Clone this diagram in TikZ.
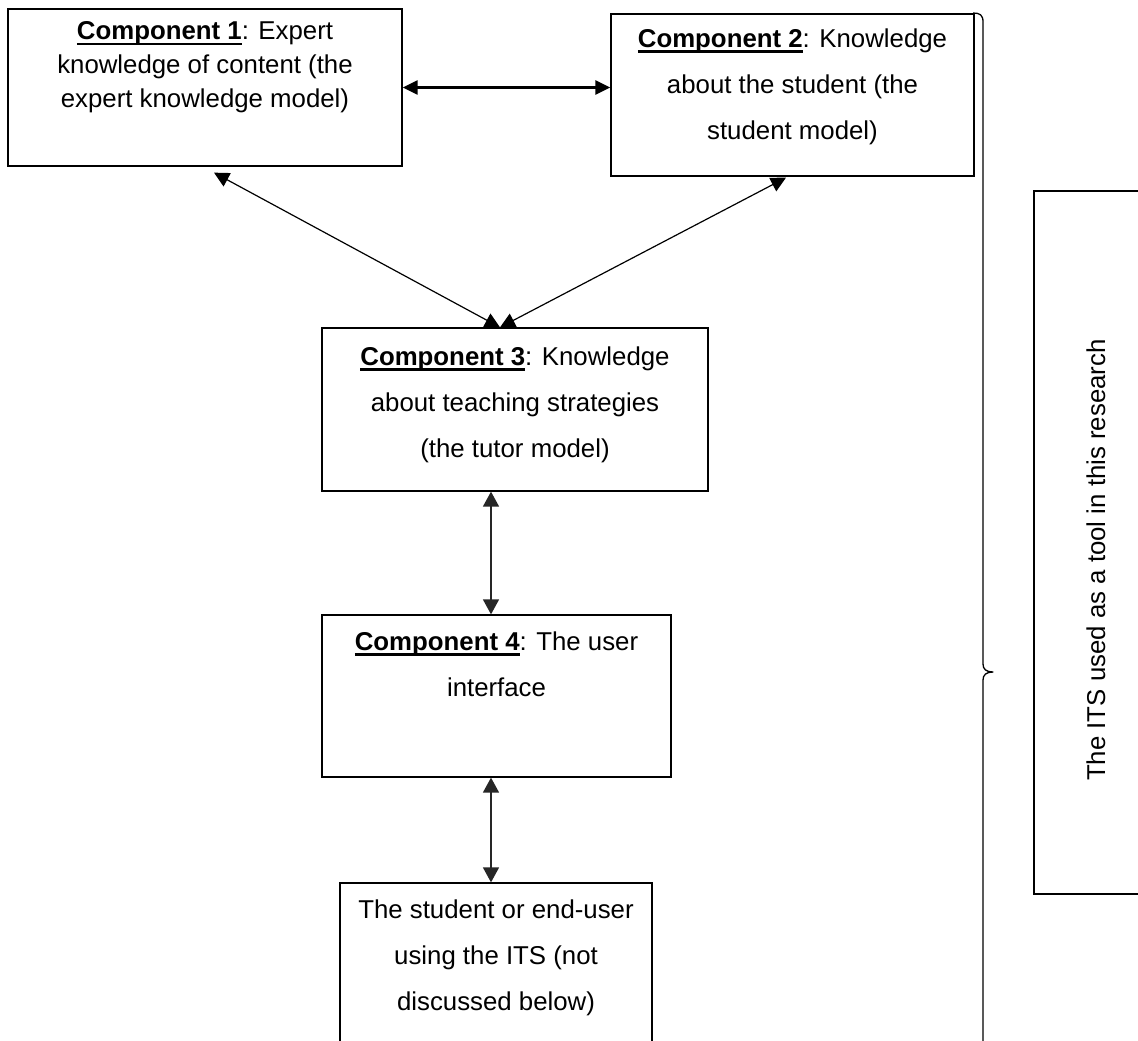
\documentclass[tikz,border=0pt]{standalone}
\usepackage{fontspec}
\setmainfont{Liberation Sans}
\usetikzlibrary{arrows.meta}
% bold, thickly underlined component name
\newcommand{\ulcomp}[1]{\setbox0=\hbox{\bfseries #1}\rlap{\vrule height -3pt depth 5.6pt width \wd0}\box0}
\begin{document}
\begin{tikzpicture}[x=1pt, y=-1pt,
  box/.style={draw=black, line width=1.3pt, inner sep=0pt},
  txt/.style={align=center, inner sep=0pt, anchor=north,
              font=\fontsize{25.8pt}{46pt}\selectfont},
  tip/.style={Triangle[length=15pt, width=15pt]},
  link/.style={line width=1.2pt, {Triangle[length=15pt,width=15pt]}-{Triangle[length=15pt,width=15pt]}},
  boldlink/.style={line width=2.3pt, {Triangle[length=15pt,width=14pt]}-{Triangle[length=15pt,width=14pt]}},
  vlink/.style={line width=1.5pt, draw=black!85, {Triangle[length=15pt,width=16pt]}-{Triangle[length=15pt,width=16pt]}},
  brace/.style={line width=1.3pt, line join=round}
]
\useasboundingbox (0,0) rectangle (1138,1041);
\clip (0,0) rectangle (1138,1041);
\fill[white] (0,0) rectangle (1138,1041);

% component boxes
\node[box, minimum width=394pt, minimum height=157pt] (c1) at (205,87.5) {};
\node[box, minimum width=363pt, minimum height=162pt] (c2) at (792.5,95) {};
\node[box, minimum width=386pt, minimum height=163pt] (c3) at (515,409.5) {};
\node[box, minimum width=349pt, minimum height=162pt] (c4) at (496.5,696) {};
\node[box, minimum width=312pt, minimum height=177pt] (c5) at (496,971.5) {};
\node[box, minimum width=126pt, minimum height=703pt] (itsbox) at (1097,542.5) {};

% box texts
\node[txt, font=\fontsize{25.8pt}{34pt}\selectfont] (t1) at ([yshift=-13pt]c1.north)
  {\ulcomp{Component 1}: Expert\\knowledge of content (the\\expert knowledge model)};
\node[txt] (t2) at ([yshift=-15pt]c2.north)
  {\ulcomp{Component 2}: Knowledge\\about the student (the\\student model)};
\node[txt] (t3) at ([yshift=-19pt]c3.north)
  {\ulcomp{Component 3}: Knowledge\\about teaching strategies\\(the tutor model)};
\node[txt] (t4) at ([yshift=-17pt]c4.north)
  {\ulcomp{Component 4}: The user\\interface};
\node[txt] (t5) at ([yshift=-17pt]c5.north)
  {The student or end-user\\using the ITS (not\\discussed below)};
\node[rotate=90, inner sep=0pt, font=\fontsize{25.8pt}{30pt}\selectfont] (its) at (1096,560)
  {The ITS used as a tool in this research};

% connectors
\draw[boldlink] (c1.east) -- (c2.west |- c1.east);
\draw[link] ([shift={(9,6)}]c1.south) -- ([xshift=-15pt]c3.north);
\draw[link] ([shift={(-6.5,1)}]c2.south) -- ([xshift=-15pt]c3.north);
\draw[vlink] ([xshift=-5.5pt]c4.north |- c3.south) -- ([xshift=-5.5pt]c4.north);
\draw[vlink] ([xshift=-5.5pt]c4.south) -- ([xshift=-5.5pt]c4.south |- c5.north);

% brace grouping the system components
\draw[brace] (973,13) .. controls (980,13) and (983,15) .. (983,22) -- (983,664)
  .. controls (983,669) and (986,672) .. (993,672)
  .. controls (986,672) and (983,675) .. (983,680) -- (983,1060);
\end{tikzpicture}
\end{document}
